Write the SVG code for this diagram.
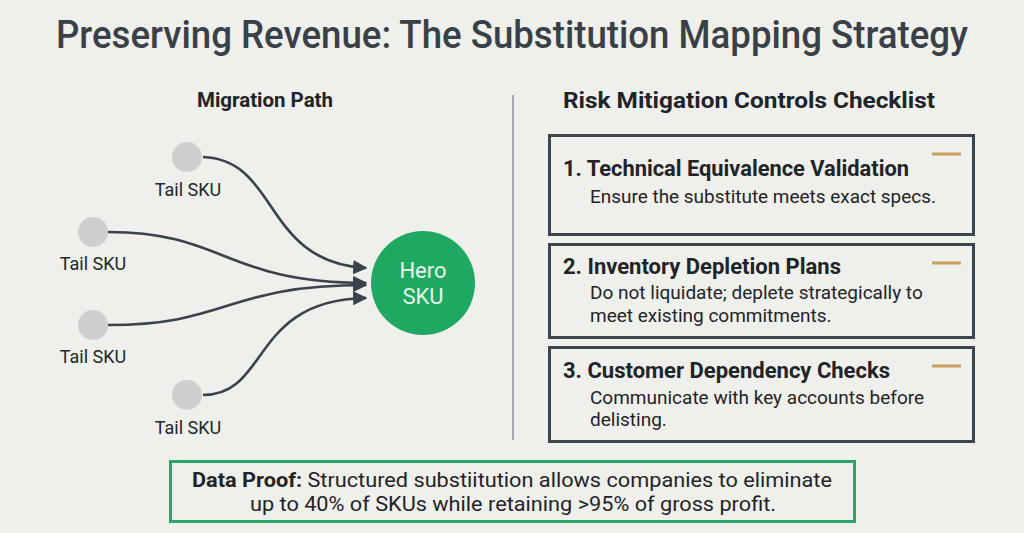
<svg xmlns="http://www.w3.org/2000/svg" width="1024" height="533" viewBox="0 0 1024 533">
<defs>
<marker id="ah" viewBox="0 0 10 10" refX="9" refY="5" markerWidth="5.5" markerHeight="5.5" orient="auto" markerUnits="strokeWidth">
<path d="M0,0 L10,5 L0,10 z" fill="#3a434c"/>
</marker>
<style>
.t{font-family:Roboto,"Liberation Sans",sans-serif;fill:#1f2428}
.title{font-size:38px;font-weight:500;fill:#394047}
.h{font-size:20px;font-weight:700}
.bt{font-size:22px;font-weight:700}
.d{font-size:19px}
.lab{font-size:18px;fill:#22272b}
.box{fill:none;stroke:#3d4650;stroke-width:3}
.dash{stroke:#c9a05a;stroke-width:3}
.tail{fill:#cfcfcf}
.edge{fill:none;stroke:#3a434c;stroke-width:2.6;marker-end:url(#ah)}
</style>
</defs>
<rect width="1024" height="533" fill="#efefeb"/>
<text class="t title" x="512" y="48" text-anchor="middle" textLength="912" lengthAdjust="spacingAndGlyphs">Preserving Revenue: The Substitution Mapping Strategy</text>

<text class="t h" x="265" y="107" text-anchor="middle" textLength="136" lengthAdjust="spacingAndGlyphs">Migration Path</text>
<text class="t h" x="749" y="108" text-anchor="middle" font-size="22" style="font-size:22px" textLength="372" lengthAdjust="spacingAndGlyphs">Risk Mitigation Controls Checklist</text>
<line x1="513" y1="95" x2="513" y2="440" stroke="#8a8f94" stroke-width="1.5"/>

<g id="connectors">
<path class="edge" d="M203,157 C280,160 262,262 366,268"/>
<path class="edge" d="M108,232 C225,232 225,283 366,283"/>
<path class="edge" d="M108,325 C230,325 225,285 366,285"/>
<path class="edge" d="M203,395 C270,395 250,300 366,298"/>
</g>

<g id="tail1"><circle class="tail" cx="187" cy="157" r="15"/><text class="t lab" x="188" y="196" text-anchor="middle">Tail SKU</text></g>
<g id="tail2"><circle class="tail" cx="93" cy="232" r="15"/><text class="t lab" x="93" y="270" text-anchor="middle">Tail SKU</text></g>
<g id="tail3"><circle class="tail" cx="93" cy="325" r="15"/><text class="t lab" x="93" y="363" text-anchor="middle">Tail SKU</text></g>
<g id="tail4"><circle class="tail" cx="187" cy="395" r="15"/><text class="t lab" x="188" y="434" text-anchor="middle">Tail SKU</text></g>

<g id="hero">
<circle cx="423" cy="283" r="52" fill="#1fa862"/>
<text class="t" x="423" y="278" text-anchor="middle" font-size="22" style="fill:#e6f4ea">Hero</text>
<text class="t" x="423" y="304" text-anchor="middle" font-size="22" style="fill:#e6f4ea">SKU</text>
</g>

<g id="check1">
<rect class="box" x="549.5" y="135.5" width="424" height="99"/>
<line class="dash" x1="932" y1="154" x2="961" y2="154"/>
<text class="t bt" x="563" y="176" textLength="346" lengthAdjust="spacingAndGlyphs">1. Technical Equivalence Validation</text>
<text class="t d" x="590" y="203" textLength="346" lengthAdjust="spacingAndGlyphs">Ensure the substitute meets exact specs.</text>
</g>
<g id="check2">
<rect class="box" x="549.5" y="244.5" width="424" height="93"/>
<line class="dash" x1="932" y1="263" x2="961" y2="263"/>
<text class="t bt" x="563" y="274">2. Inventory Depletion Plans</text>
<text class="t d" x="590" y="299">Do not liquidate; deplete strategically to</text>
<text class="t d" x="590" y="322">meet existing commitments.</text>
</g>
<g id="check3">
<rect class="box" x="549.5" y="347.5" width="424" height="94"/>
<line class="dash" x1="932" y1="366" x2="961" y2="366"/>
<text class="t bt" x="563" y="378">3. Customer Dependency Checks</text>
<text class="t d" x="590" y="404">Communicate with key accounts before</text>
<text class="t d" x="590" y="426">delisting.</text>
</g>

<g id="proof">
<rect x="170.5" y="461.5" width="684" height="60" fill="none" stroke="#2aa56b" stroke-width="3"/>
<text class="t" x="512" y="487" text-anchor="middle" font-size="21" textLength="640" lengthAdjust="spacingAndGlyphs"><tspan font-weight="700">Data Proof:</tspan> Structured substiitution allows companies to eliminate</text>
<text class="t" x="513" y="511" text-anchor="middle" font-size="21" textLength="526" lengthAdjust="spacingAndGlyphs">up to 40% of SKUs while retaining &gt;95% of gross profit.</text>
</g>
</svg>
